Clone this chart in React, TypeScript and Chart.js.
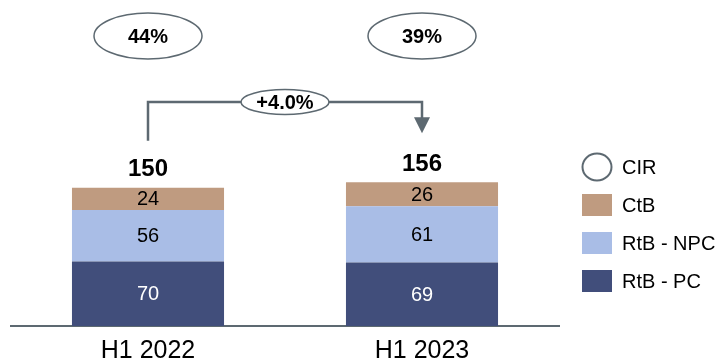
import { useEffect, useRef } from "react";
import { Chart, registerables } from "chart.js";

Chart.register(...registerables);

// Half-year figures, stacked bottom to top
const categories = ["H1 2022", "H1 2023"];
const rtbPc = [70, 69];
const rtbNpc = [56, 61];
const ctb = [24, 26];
const cir = [44, 39];
const seriesLabels = ["RtB - PC", "RtB - NPC", "CtB"];
const cirLabel = "CIR";

const totals = rtbPc.map((v, i) => v + rtbNpc[i] + ctb[i]);

const FONT = 'Arial, "Liberation Sans", sans-serif';
const GREY = "#5d6971";
const COLORS = ["#414e7b", "#a9bde6", "#bf9b80"];

function ellipse(ctx: CanvasRenderingContext2D, cx: number, cy: number, rx: number, ry: number, lw: number) {
  ctx.beginPath();
  ctx.ellipse(cx, cy, rx, ry, 0, 0, Math.PI * 2);
  ctx.fillStyle = "#ffffff";
  ctx.fill();
  ctx.lineWidth = lw;
  ctx.strokeStyle = GREY;
  ctx.stroke();
}

const overlay = {
  id: "overlay",
  afterDatasetsDraw(chart: any) {
    const ctx: CanvasRenderingContext2D = chart.ctx;
    const xs = chart.scales.x;
    const ys = chart.scales.y;
    const area = chart.chartArea;
    ctx.save();
    ctx.textAlign = "center";

    // values inside each segment
    chart.data.datasets.forEach((ds: any, di: number) => {
      const meta = chart.getDatasetMeta(di);
      meta.data.forEach((el: any, i: number) => {
        const p = el.getProps(["x", "y", "base"], true);
        ctx.fillStyle = di === 0 ? "#ffffff" : "#000000";
        ctx.font = `20px ${FONT}`;
        ctx.textBaseline = "middle";
        ctx.fillText(String(ds.data[i]), p.x, (p.y + p.base) / 2 + 1);
      });
    });

    // totals above the stacks
    ctx.font = `bold 24px ${FONT}`;
    ctx.fillStyle = "#000000";
    ctx.textBaseline = "alphabetic";
    totals.forEach((t, i) => {
      ctx.fillText(String(t), xs.getPixelForValue(i), ys.getPixelForValue(t) - 11.5);
    });

    // CIR bubbles
    cir.forEach((c, i) => {
      const cx = xs.getPixelForValue(i);
      ellipse(ctx, cx, 36, 54, 23, 1.5);
      ctx.fillStyle = "#000000";
      ctx.font = `bold 20px ${FONT}`;
      ctx.textBaseline = "middle";
      ctx.fillText(`${c}%`, cx, 37);
    });

    // growth arrow
    const x0 = xs.getPixelForValue(0);
    const x1 = xs.getPixelForValue(1);
    const hy = 102;
    const startY = ys.getPixelForValue(totals[0]) - 47;
    const tipY = ys.getPixelForValue(totals[1]) - 49;
    ctx.strokeStyle = GREY;
    ctx.fillStyle = GREY;
    ctx.lineWidth = 2.5;
    ctx.beginPath();
    ctx.moveTo(x0, startY);
    ctx.lineTo(x0, hy);
    ctx.lineTo(x1, hy);
    ctx.lineTo(x1, tipY - 15);
    ctx.stroke();
    ctx.beginPath();
    ctx.moveTo(x1 - 8, tipY - 16);
    ctx.lineTo(x1 + 8, tipY - 16);
    ctx.lineTo(x1, tipY);
    ctx.closePath();
    ctx.fill();

    const growth = (totals[1] / totals[0] - 1) * 100;
    const gx = (x0 + x1) / 2;
    ellipse(ctx, gx, hy, 44, 12.5, 1.5);
    ctx.fillStyle = "#000000";
    ctx.font = `bold 20px ${FONT}`;
    ctx.textBaseline = "middle";
    ctx.fillText(`${growth >= 0 ? "+" : ""}${growth.toFixed(1)}%`, gx, hy + 1);

    // legend
    const lx = area.right + 23;
    const tx = lx + 40;
    const rows = [cirLabel, ...seriesLabels.slice().reverse()];
    const rowColors = [null, ...COLORS.slice().reverse()];
    rows.forEach((label, r) => {
      const cy = 167 + r * 38;
      if (r === 0) {
        ctx.beginPath();
        ctx.ellipse(lx + 15, cy, 14.5, 13.5, 0, 0, Math.PI * 2);
        ctx.lineWidth = 2;
        ctx.strokeStyle = GREY;
        ctx.stroke();
      } else {
        ctx.fillStyle = rowColors[r] as string;
        ctx.fillRect(lx, cy - 11, 30, 22);
      }
      ctx.fillStyle = "#000000";
      ctx.font = `20px ${FONT}`;
      ctx.textAlign = "left";
      ctx.textBaseline = "middle";
      ctx.fillText(label, tx, cy + 1);
    });

    ctx.restore();
  },
};

export default function App() {
  const ref = useRef<HTMLCanvasElement | null>(null);

  useEffect(() => {
    if (!ref.current) return;
    const chart = new Chart(ref.current, {
      type: "bar",
      data: {
        labels: categories,
        datasets: [
          { label: seriesLabels[0], data: rtbPc, backgroundColor: COLORS[0] },
          { label: seriesLabels[1], data: rtbNpc, backgroundColor: COLORS[1] },
          { label: seriesLabels[2], data: ctb, backgroundColor: COLORS[2] },
        ],
      },
      options: {
        responsive: false,
        animation: false,
        layout: { padding: { left: 11, right: 164, top: 0, bottom: -14 } },
        datasets: { bar: { categoryPercentage: 1, barPercentage: 0.555 } },
        plugins: { legend: { display: false }, tooltip: { enabled: false } },
        scales: {
          x: {
            stacked: true,
            offset: true,
            grid: { display: false, drawTicks: false },
            border: { display: true, color: GREY, width: 2 },
            ticks: {
              color: "#000000",
              padding: 13,
              font: { family: FONT, size: 25, lineHeight: 1 },
            },
          },
          y: {
            stacked: true,
            display: false,
            min: 0,
            max: 354,
          },
        },
      },
      plugins: [overlay],
    });
    return () => chart.destroy();
  }, []);

  return (
    <div style={{ position: "absolute", left: 0, top: 0, width: 723, height: 363 }}>
      <canvas ref={ref} width={723} height={363} />
    </div>
  );
}
